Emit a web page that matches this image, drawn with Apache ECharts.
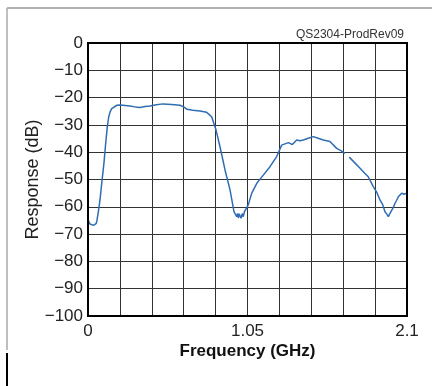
<!DOCTYPE html>
<html>
<head>
<meta charset="utf-8">
<script src="https://cdn.jsdelivr.net/npm/echarts@6/dist/echarts.min.js"></script>
<style>
  html, body { margin: 0; padding: 0; background: #fff; }
  #chart { width: 432px; height: 386px; }
</style>
</head>
<body>
<div id="chart"></div>
<script>
// Filter response sweep: frequency (GHz) vs response (dB)
const freqGHz = [
  0, 0.013, 0.026, 0.036, 0.046, 0.053, 0.059, 0.069, 0.079, 0.092, 0.105, 0.116, 0.127, 0.136, 0.145, 0.156, 0.167,
  0.19, 0.211, 0.244, 0.276, 0.31, 0.342, 0.375, 0.408, 0.45, 0.494, 0.55, 0.606, 0.63, 0.652, 0.69, 0.737, 0.781,
  0.814, 0.843, 0.869, 0.902, 0.935, 0.961, 0.97, 0.979, 0.985, 0.99, 0.995, 1.001, 1.008, 1.015, 1.022, 1.03, 1.04,
  1.055, 1.078, 1.111, 1.154, 1.198, 1.242, 1.275, 1.319, 1.345, 1.374, 1.395, 1.417, 1.45, 1.483, 1.515, 1.549,
  1.593, 1.637, 1.665, 1.692, 1.706, 1.72, 1.758, 1.791, 1.82, 1.845, 1.878, 1.9, 1.922, 1.94, 1.955, 1.966,
  1.977, 1.988, 1.999, 2.01, 2.021, 2.032, 2.043, 2.055, 2.065, 2.08, 2.098
];
const responseDb = [
  -64.8, -66.3, -65.6, -66.8, -67.4, -66.2, -65.0, -61.5, -57.5, -50.5, -44.0, -37.0, -30.7, -27.2, -25.3, -24.0, -23.3,
  -22.8, -22.7, -22.9, -23.1, -23.4, -23.6, -23.3, -23.1, -22.6, -22.3, -22.5, -22.8, -23.4, -24.3, -24.6, -24.9, -25.4,
  -27.0, -31.9, -38.0, -46.5, -53.8, -61.8, -62.7, -63.6, -62.4, -64.1, -62.6, -63.0, -64.2, -62.5, -63.6, -61.8, -62.3,
  -59.3, -55.0, -51.4, -48.4, -45.3, -41.6, -37.4, -36.5, -37.2, -35.5, -35.8, -35.5, -34.9, -34.3, -34.9, -35.5,
  -36.1, -38.6, -39.4, -40.4, null, -41.8, -44.0, -45.9, -47.6, -49.0, -52.6, -54.6, -57.5, -59.2, -61.8, -62.6,
  -63.6, -62.4, -61.8, -60.2, -58.7, -57.6, -56.3, -55.9, -55.0, -55.4, -55.0
];
const xTickLabels = ['0', '1.05', '2.1'];
const yMin = -100, yMax = 0, yStep = 10;
const xMin = 0, xMax = 2.1, xStep = 0.21;

const points = freqGHz.map((f, i) => [f, responseDb[i]]);
const FONT = '"Liberation Sans", Arial, sans-serif';

const chart = echarts.init(document.getElementById('chart'), null, { renderer: 'canvas' });
chart.setOption({
  animation: false,
  backgroundColor: '#ffffff',
  title: {
    text: 'QS2304-ProdRev09',
    right: 23,
    top: 24,
    textStyle: { fontFamily: FONT, fontSize: 12, fontWeight: 'normal', color: '#333' }
  },
  grid: { left: 88, right: 25, top: 43, bottom: 70 },
  xAxis: {
    type: 'value',
    min: xMin, max: xMax, interval: xStep,
    name: 'Frequency (GHz)',
    nameLocation: 'middle',
    nameGap: 27,
    nameMoveOverlap: false,
    nameTextStyle: { fontFamily: FONT, fontSize: 17, fontWeight: 'bold', color: '#111' },
    axisLine: { show: true, onZero: false, lineStyle: { color: '#000', width: 2 } },
    axisTick: { show: false },
    axisLabel: {
      fontFamily: FONT, fontSize: 17, color: '#222', margin: 7,
      showMinLabel: true, showMaxLabel: true,
      formatter: v => {
        const r = (Math.round(v * 100) / 100).toString();
        return xTickLabels.includes(r) ? r : '';
      }
    },
    splitLine: { show: true, lineStyle: { color: '#333', width: 1 } }
  },
  yAxis: {
    type: 'value',
    min: yMin, max: yMax, interval: yStep,
    name: 'Response (dB)',
    nameLocation: 'middle',
    nameGap: 46,
    nameMoveOverlap: false,
    nameTextStyle: { fontFamily: FONT, fontSize: 18, color: '#222' },
    axisLine: { show: true, lineStyle: { color: '#000', width: 2 } },
    axisTick: { show: false },
    axisLabel: {
      fontFamily: FONT, fontSize: 17, color: '#222', margin: 5,
      formatter: v => String(Math.round(v)).replace('-', '\u2212')
    },
    splitLine: { show: true, lineStyle: { color: '#333', width: 1 } }
  },
  graphic: [
    // plot frame (top and right edges)
    { type: 'rect', shape: { x: 88, y: 43, width: 319, height: 273 },
      style: { fill: 'none', stroke: '#000', lineWidth: 2 }, silent: true, z: 10 },
    // outer panel border
    { type: 'line', shape: { x1: 7, y1: 8, x2: 432, y2: 8 }, style: { stroke: '#999', lineWidth: 1.5 } },
    { type: 'line', shape: { x1: 7, y1: 8, x2: 7, y2: 350 }, style: { stroke: '#aaa', lineWidth: 1.5 } },
    { type: 'line', shape: { x1: 7, y1: 353, x2: 7, y2: 386 }, style: { stroke: '#000', lineWidth: 2 } }
  ],
  series: [{
    type: 'line',
    data: points,
    showSymbol: false,
    connectNulls: false,
    lineStyle: { color: '#2f6db3', width: 1.5 },
    z: 5
  }]
});
</script>
</body>
</html>
